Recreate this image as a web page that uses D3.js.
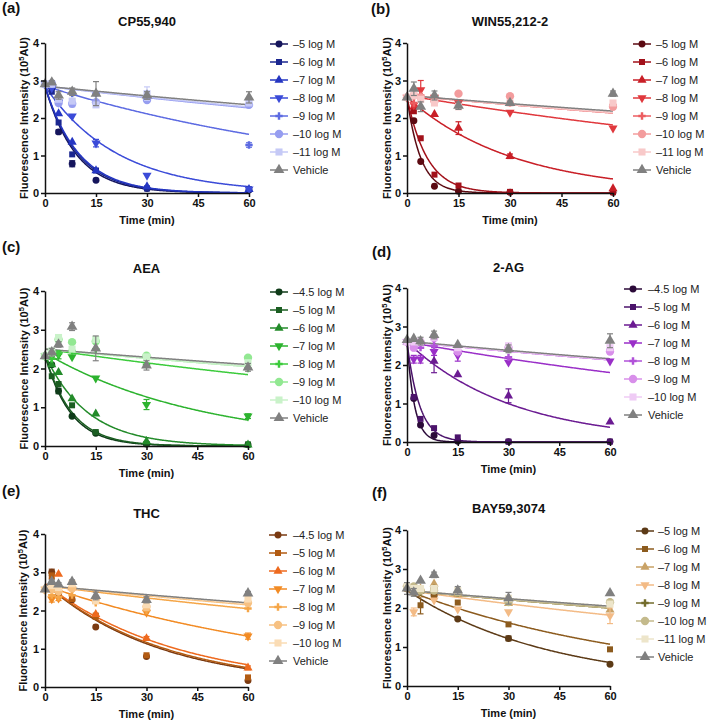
<!DOCTYPE html>
<html><head><meta charset="utf-8">
<script src="https://cdn.jsdelivr.net/npm/d3@7"></script>
<style>body{margin:0;background:#fff} svg{display:block} text{font-family:"Liberation Sans",Arial,sans-serif}</style>
</head><body><svg id="chart" width="709" height="722"></svg>
<script>
// ---------- shared ----------
const times = [0, 2, 4, 8, 15, 30, 60];
const xTicks = [0, 15, 30, 45, 60];
const yTicks = [0, 1, 2, 3, 4];

// ---------- (a) CP55,940 ----------
const cpLabels = ["–5 log M","–6 log M","–7 log M","–8 log M","–9 log M","–10 log M","–11 log M","Vehicle"];
const cpValues = [
  [2.9, 2.8, 1.63, 0.78, 0.34, 0.12, 0.08],
  [2.9, 2.7, 1.88, 1.03, 0.60, 0.12, 0.10],
  [2.9, 2.85, 2.12, 1.36, 0.60, 0.17, 0.10],
  [2.9, 2.8, 2.42, 2.05, 1.33, 0.47, 0.10],
  [2.9, 2.9, 2.45, 2.65, 2.65, 2.50, 1.28],
  [2.9, 2.92, 2.40, 2.38, 2.42, 2.48, 2.35],
  [2.9, 2.9, 2.50, 2.45, 2.35, 2.65, 2.40],
  [2.9, 2.95, 2.60, 2.70, 2.65, 2.60, 2.55]
];
const cpErrors = [
  [0,0,0.05,0.08,0,0,0],[0,0,0,0,0,0,0],[0,0,0,0,0,0,0],[0,0,0,0,0.1,0,0],
  [0,0,0,0,0,0,0.06],[0,0,0,0.08,0,0,0],[0,0,0,0,0,0.18,0],[0,0.05,0.1,0.1,0.32,0.1,0.15]
];
const cpFitStart = [2.85, 2.85, 2.85, 2.85, 2.85, 2.85, 2.85, 2.85];
const cpFitRate = [0.11, 0.104, 0.1, 0.047, 0.01, 0.0038, 0.0036, 0.0032];

// ---------- (b) WIN55,212-2 ----------
const winLabels = ["–5 log M","–6 log M","–7 log M","–8 log M","–9 log M","–10 log M","–11 log M","Vehicle"];
const winValues = [
  [2.55, 1.93, 0.84, 0.18, 0.05, 0.02, 0.02],
  [2.55, 2.18, 1.46, 0.49, 0.20, 0.03, 0.02],
  [2.55, 2.30, 2.60, 2.10, 1.73, 0.98, 0.12],
  [2.55, 2.35, 2.75, 2.55, 2.40, 2.15, 1.73],
  [2.55, 2.40, 2.60, 2.50, 2.35, 2.40, 2.35],
  [2.55, 2.60, 2.55, 2.45, 2.65, 2.58, 2.30],
  [2.55, 2.60, 2.50, 2.40, 2.30, 2.40, 2.40],
  [2.55, 2.78, 2.30, 2.60, 2.33, 2.40, 2.65]
];
const winErrors = [
  [0,0,0,0,0,0,0],[0,0,0,0,0,0,0],[0,0,0,0,0.17,0.06,0],[0,0.05,0.25,0,0,0,0],
  [0,0,0,0,0,0,0],[0,0,0,0,0,0,0],[0,0,0,0,0,0,0],[0,0.18,0.13,0.12,0.1,0.05,0.07]
];
const winFitStart = [2.55, 2.55, 2.55, 2.6, 2.6, 2.6, 2.6, 2.6];
const winFitRate = [0.25, 0.17, 0.032, 0.006, 0.0033, 0.0033, 0.0032, 0.0029];

// ---------- (c) AEA ----------
const aeaLabels = ["–4.5 log M","–5 log M","–6 log M","–7 log M","–8 log M","–9 log M","–10 log M","Vehicle"];
const aeaValues = [
  [2.32, 2.10, 1.42, 0.77, 0.33, 0.05, 0.03],
  [2.32, 1.80, 1.60, 1.05, 0.36, 0.05, 0.04],
  [2.32, 2.10, 1.90, 1.22, 0.83, 0.12, 0.03],
  [2.32, 2.30, 2.35, 2.30, 1.75, 1.07, 0.77],
  [2.32, 2.25, 2.38, 2.45, 2.50, 2.10, 2.00],
  [2.32, 2.40, 2.75, 2.68, 2.70, 2.33, 2.28],
  [2.32, 2.45, 2.80, 2.50, 2.75, 2.30, 2.15],
  [2.32, 2.42, 2.62, 3.08, 2.52, 2.08, 2.03]
];
const aeaErrors = [
  [0,0,0.07,0,0,0,0],[0,0,0,0,0,0,0],[0,0,0,0,0,0,0],[0,0,0.1,0,0,0.13,0.06],
  [0,0,0,0,0,0,0],[0,0,0,0,0,0,0],[0,0,0,0,0,0,0],[0,0.1,0.07,0.1,0.32,0.12,0.1]
];
const aeaFitStart = [2.35, 2.35, 2.35, 2.4, 2.5, 2.5, 2.5, 2.5];
const aeaFitRate = [0.133, 0.125, 0.079, 0.0213, 0.0051, 0.0033, 0.0033, 0.0029];

// ---------- (d) 2-AG ----------
const agLabels = ["–4.5 log M","–5 log M","–6 log M","–7 log M","–8 log M","–9 log M","–10 log M","Vehicle"];
const agValues = [
  [2.60, 1.13, 0.44, 0.17, 0.02, 0.01, 0.01],
  [2.60, 1.17, 0.60, 0.36, 0.12, 0.01, 0.01],
  [2.60, 2.65, 2.60, 2.10, 1.75, 1.20, 0.52],
  [2.60, 2.15, 2.15, 2.35, 2.25, 2.07, 2.10],
  [2.60, 2.45, 2.45, 2.50, 2.30, 2.20, 2.40],
  [2.60, 2.45, 2.60, 2.70, 2.35, 2.45, 2.35],
  [2.60, 2.60, 2.60, 2.72, 2.45, 2.50, 2.45],
  [2.65, 2.68, 2.62, 2.78, 2.52, 2.42, 2.63]
];
const agErrors = [
  [0,0,0,0,0,0,0],[0,0,0,0,0,0,0],[0,0,0,0.3,0,0.18,0],[0,0.1,0.1,0.1,0.15,0,0],
  [0,0,0,0,0,0,0],[0,0,0,0,0,0,0],[0,0,0,0,0,0,0],[0,0,0.1,0.1,0,0.1,0.18]
];
const agFitStart = [2.6, 2.6, 2.6, 2.6, 2.6, 2.6, 2.6, 2.62];
const agFitRate = [0.45, 0.27, 0.032, 0.0061, 0.0033, 0.0033, 0.0032, 0.0032];

// ---------- (e) THC ----------
const thcLabels = ["–4.5 log M","–5 log M","–6 log M","–7 log M","–8 log M","–9 log M","–10 log M","Vehicle"];
const thcValues = [
  [2.55, 3.00, 2.45, 2.28, 1.57, 0.80, 0.17],
  [2.55, 2.90, 2.50, 2.30, 1.85, 0.83, 0.25],
  [2.55, 2.75, 2.95, 2.60, 1.90, 1.27, 0.50],
  [2.55, 2.30, 2.32, 2.55, 2.25, 1.95, 1.33],
  [2.55, 2.40, 2.35, 2.40, 2.20, 2.00, 2.05],
  [2.55, 2.55, 2.50, 2.58, 2.30, 2.10, 2.20],
  [2.55, 2.65, 2.60, 2.70, 2.25, 2.15, 2.30],
  [2.55, 2.75, 2.68, 2.75, 2.38, 2.28, 2.45]
];
const thcErrors = [
  [0,0.08,0,0,0,0,0],[0,0.08,0,0.05,0.08,0,0.05],[0,0,0,0,0,0.05,0.05],[0,0.08,0.06,0,0,0,0.08],
  [0,0,0,0,0,0,0],[0,0,0,0,0,0.1,0.08],[0,0,0,0,0,0,0],[0,0.05,0.05,0.05,0.1,0.08,0.05]
];
const thcFitStart = [2.7, 2.7, 2.7, 2.65, 2.65, 2.65, 2.65, 2.65];
const thcFitRate = [0.029, 0.028, 0.0256, 0.0115, 0.0043, 0.0035, 0.0032, 0.0031];

// ---------- (f) BAY59,3074 ----------
const bayLabels = ["–5 log M","–6 log M","–7 log M","–8 log M","–9 log M","–10 log M","–11 log M","Vehicle"];
const bayValues = [
  [2.50, 2.45, 2.45, 2.32, 1.72, 1.22, 0.56],
  [2.50, 2.40, 2.07, 2.28, 2.14, 1.58, 0.94],
  [2.50, 2.45, 2.50, 2.62, 2.35, 2.12, 1.95],
  [2.50, 1.90, 2.40, 2.20, 1.97, 1.90, 1.80],
  [2.50, 2.40, 2.40, 2.50, 2.38, 2.20, 2.15],
  [2.55, 2.55, 2.45, 2.45, 2.40, 2.15, 2.15],
  [2.55, 2.50, 2.50, 2.50, 2.45, 2.25, 2.10],
  [2.50, 2.40, 2.70, 2.85, 2.45, 2.25, 2.38]
];
const bayErrors = [
  [0,0,0,0,0,0.06,0],[0,0,0.22,0,0,0,0],[0,0,0,0,0,0,0],[0,0.1,0,0,0,0,0.2],
  [0,0,0,0,0,0,0],[0,0,0,0,0,0,0],[0,0,0,0,0,0,0],[0.15,0.1,0,0.07,0.1,0.15,0]
];
const bayFitStart = [2.45, 2.45, 2.45, 2.45, 2.45, 2.45, 2.45, 2.45];
const bayFitRate = [0.0234, 0.0138, 0.0034, 0.005, 0.0034, 0.0034, 0.003, 0.003];

// ---------- styles ----------
const cpColors  = ["#15155c","#1b2790","#2536c2","#3b4bd8","#5d6be2","#969df0","#c5c9f6","#808080"];
const winColors = ["#5c0a12","#a2111a","#c91f27","#e0383d","#ec5d60","#f39c9d","#f8c9c9","#808080"];
const aeaColors = ["#0f3b19","#1b5e22","#238b2a","#2db32f","#3ccb3c","#92e892","#c9f2c9","#808080"];
const agColors  = ["#2b0a39","#4b136b","#6b1b92","#9a2fc8","#b152d9","#d88fea","#efcbf5","#808080"];
const thcColors = ["#7a3a12","#b25b12","#ee6a1f","#f28b24","#f5a648","#f7c182","#fadcb5","#808080"];
const bayColors = ["#5c3a16","#8c5b1e","#c9a266","#f3bb86","#736c2c","#c4ba8c","#ede5ca","#808080"];
const shapeNames = ["circle","square","triangle","triangleDown","cross","circle","square","triangle"];
const shapeSizes = [38, 36, 36, 36, 30, 55, 50, 50];

const panels = [
  {tag:"(a)", title:"CP55,940", labels:cpLabels, values:cpValues, errors:cpErrors, fs:cpFitStart, fk:cpFitRate, colors:cpColors,
   x0:45, x1:249, yb:193, yt:43, tagX:2, tagY:13, titleY:26, legX:279, legTX:293, ylabX:28},
  {tag:"(b)", title:"WIN55,212-2", labels:winLabels, values:winValues, errors:winErrors, fs:winFitStart, fk:winFitRate, colors:winColors,
   x0:407, x1:613, yb:193, yt:43, tagX:371, tagY:14, titleY:26, legX:642, legTX:656, ylabX:391},
  {tag:"(c)", title:"AEA", labels:aeaLabels, values:aeaValues, errors:aeaErrors, fs:aeaFitStart, fk:aeaFitRate, colors:aeaColors,
   x0:45, x1:248, yb:446, yt:291, tagX:2, tagY:252, titleY:273, legX:279, legTX:293, ylabX:28},
  {tag:"(d)", title:"2-AG", labels:agLabels, values:agValues, errors:agErrors, fs:agFitStart, fk:agFitRate, colors:agColors,
   x0:407, x1:610, yb:442, yt:288, tagX:372, tagY:257, titleY:272, legX:633, legTX:648, ylabX:391},
  {tag:"(e)", title:"THC", labels:thcLabels, values:thcValues, errors:thcErrors, fs:thcFitStart, fk:thcFitRate, colors:thcColors,
   x0:45, x1:248, yb:687, yt:534, tagX:2, tagY:496, titleY:518, legX:278, legTX:293, ylabX:27},
  {tag:"(f)", title:"BAY59,3074", labels:bayLabels, values:bayValues, errors:bayErrors, fs:bayFitStart, fk:bayFitRate, colors:bayColors,
   x0:407, x1:610, yb:686, yt:530, tagX:372, tagY:498, titleY:513, legX:645, legTX:658, ylabX:391}
];

const svg = d3.select("#chart");

function symbolPath(name, size) {
  const map = {circle:d3.symbolCircle, square:d3.symbolSquare, triangle:d3.symbolTriangle,
               triangleDown:d3.symbolTriangle, cross:d3.symbolCross};
  return d3.symbol().type(map[name]).size(size)();
}
function drawMarker(g, name, size, cx, cy, color) {
  g.append("path").attr("d", symbolPath(name, size))
    .attr("transform", `translate(${cx},${cy})` + (name === "triangleDown" ? " rotate(180)" : ""))
    .attr("fill", color).attr("stroke", "none");
}

panels.forEach(p => {
  const g = svg.append("g");
  const x = d3.scaleLinear().domain([0, 60]).range([p.x0, p.x1]);
  const y = d3.scaleLinear().domain([0, 4]).range([p.yb, p.yt]);

  g.append("text").attr("x", p.tagX).attr("y", p.tagY).text(p.tag)
    .attr("font-size", 15).attr("font-weight", "bold").attr("fill", "#111");
  g.append("text").attr("x", (p.x0 + p.x1) / 2).attr("y", p.titleY).text(p.title)
    .attr("text-anchor", "middle").attr("font-size", 13).attr("font-weight", "bold").attr("fill", "#111");

  const fitT = d3.range(0, 60.01, 0.25);
  const line = d3.line().x(d => x(d[0])).y(d => y(d[1]));
  p.labels.forEach((lab, i) => {
    const curve = fitT.map(t => [t, p.fs[i] * Math.exp(-p.fk[i] * t)]);
    g.append("path").attr("d", line(curve)).attr("fill", "none")
      .attr("stroke", p.colors[i]).attr("stroke-width", 1.5);
  });
  p.labels.forEach((lab, i) => {
    const col = p.colors[i];
    times.forEach((t, j) => {
      const v = p.values[i][j], e = p.errors[i][j];
      if (e > 0) {
        const cx = x(t);
        g.append("line").attr("x1", cx).attr("x2", cx).attr("y1", y(v - e)).attr("y2", y(v + e))
          .attr("stroke", col).attr("stroke-width", 1.2);
        [v - e, v + e].forEach(yy => g.append("line").attr("x1", cx - 3).attr("x2", cx + 3)
          .attr("y1", y(yy)).attr("y2", y(yy)).attr("stroke", col).attr("stroke-width", 1.2));
      }
      drawMarker(g, shapeNames[i], shapeSizes[i], x(t), y(v), col);
    });
  });

  const ax = g.append("g").attr("transform", `translate(0,${p.yb})`)
    .call(d3.axisBottom(x).tickValues(xTicks).tickFormat(d3.format("d")).tickSize(4).tickSizeOuter(0).tickPadding(2));
  const ay = g.append("g").attr("transform", `translate(${p.x0},0)`)
    .call(d3.axisLeft(y).tickValues(yTicks).tickFormat(d3.format("d")).tickSize(4).tickSizeOuter(0).tickPadding(2));
  [ax, ay].forEach(a => {
    a.selectAll("path,line").attr("stroke", "#111").attr("stroke-width", 1.5);
    a.selectAll("text").attr("font-size", 11).attr("font-weight", "bold").attr("fill", "#111")
      .style("font-family", '"Liberation Sans", Arial, sans-serif');
  });

  g.append("text").attr("x", (p.x0 + p.x1) / 2).attr("y", p.yb + 31).text("Time (min)")
    .attr("text-anchor", "middle").attr("font-size", 11).attr("font-weight", "bold").attr("fill", "#111");
  const yl = g.append("text").attr("transform", `translate(${p.ylabX},${(p.yb + p.yt) / 2}) rotate(-90)`)
    .attr("text-anchor", "middle").attr("font-size", 11).attr("font-weight", "bold").attr("fill", "#111");
  yl.append("tspan").text("Fluorescence Intensity (10");
  yl.append("tspan").text("5").attr("font-size", 7.5).attr("dy", -4);
  yl.append("tspan").text("AU)").attr("dy", 4);

  p.labels.forEach((lab, i) => {
    const ly = p.yt + 1 + i * 18;
    g.append("line").attr("x1", p.legX - 9).attr("x2", p.legX + 9).attr("y1", ly).attr("y2", ly)
      .attr("stroke", p.colors[i]).attr("stroke-width", 1.5);
    drawMarker(g, shapeNames[i], shapeSizes[i], p.legX, ly, p.colors[i]);
    g.append("text").attr("x", p.legTX).attr("y", ly + 4).text(lab)
      .attr("font-size", 11).attr("fill", "#222");
  });
});
</script></body></html>
